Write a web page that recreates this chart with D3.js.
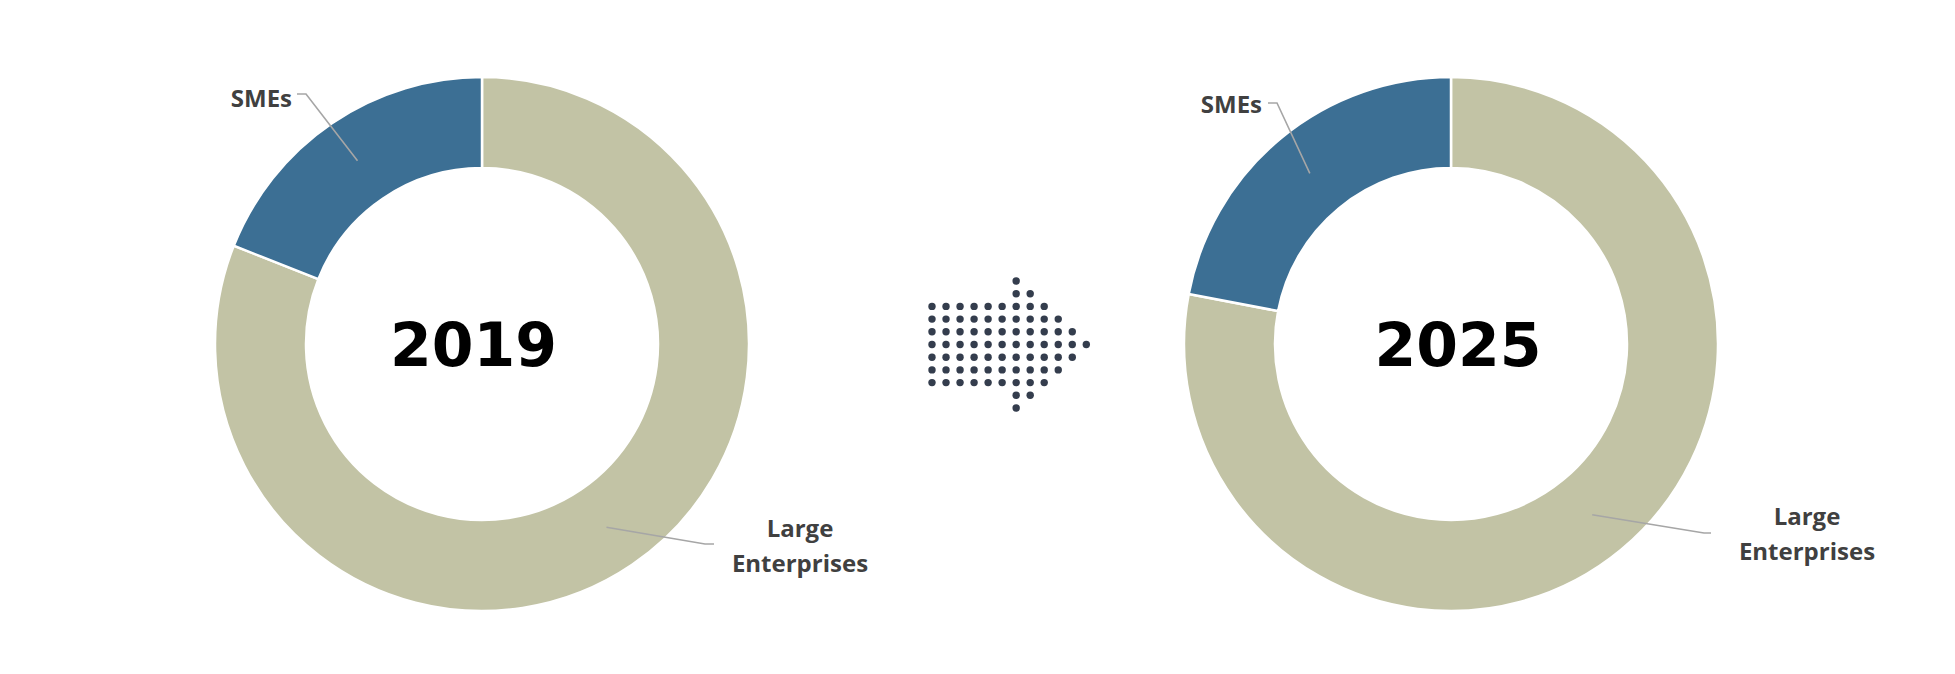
<!DOCTYPE html>
<html>
<head>
<meta charset="utf-8">
<script src="https://cdn.jsdelivr.net/npm/d3@7"></script>
<style>
  html, body { margin: 0; padding: 0; background: #fff; }
  svg { display: block; }
</style>
</head>
<body>
<svg id="chart" width="1955" height="674"></svg>
<script>
// ---- data ----
const categories = ["Large Enterprises", "SMEs"];
const years = ["2019", "2025"];
const share2019 = [81, 19];
const share2025 = [78, 22];
// dot arrow: [rowIndex, firstCol, lastCol]
const arrowRows = [[0,6,6],[1,6,7],[2,0,8],[3,0,9],[4,0,10],[5,0,11],[6,0,10],[7,0,9],[8,0,8],[9,6,7],[10,6,6]];

// ---- layout / style ----
const colors = { "Large Enterprises": "#c2c3a5", "SMEs": "#3c6f94" };
const textColor = "#404040";
const leaderColor = "#a6a6a6";
const outerR = 267, innerR = 176;

const svg = d3.select("#chart");

const charts = [
  { year: years[0], values: share2019, cx: 482, cy: 344, yearX: 473.5,
    labels: {
      "SMEs": { pts: [[306, 94], [297, 94]], tx: 292, ty: 107, anchor: "end", lines: ["SMEs"] },
      "Large Enterprises": { pts: [[705, 544], [714, 544]], tx: 800, ty: 537, anchor: "middle", lines: ["Large", "Enterprises"] }
    } },
  { year: years[1], values: share2025, cx: 1451, cy: 344, yearX: 1458,
    labels: {
      "SMEs": { pts: [[1277, 103], [1268, 103]], tx: 1262, ty: 113, anchor: "end", lines: ["SMEs"] },
      "Large Enterprises": { pts: [[1704, 533], [1711, 533]], tx: 1807, ty: 525, anchor: "middle", lines: ["Large", "Enterprises"] }
    } }
];

const pie = d3.pie().sort(null).value(d => d.v);
const arc = d3.arc().innerRadius(innerR).outerRadius(outerR);

charts.forEach(c => {
  const data = categories.map((k, i) => ({ k, v: c.values[i] }));
  const arcs = pie(data);
  const g = svg.append("g").attr("transform", `translate(${c.cx},${c.cy})`);
  g.selectAll("path.slice").data(arcs).join("path")
    .attr("class", "slice")
    .attr("d", arc)
    .attr("fill", d => colors[d.data.k])
    .attr("stroke", "#fff")
    .attr("stroke-width", 2.5);

  // leader lines + labels
  arcs.forEach(a => {
    const L = c.labels[a.data.k];
    const [x0, y0] = arc.centroid(a);
    const pts = [[x0 + c.cx, y0 + c.cy]].concat(L.pts);
    svg.append("path")
      .attr("d", d3.line()(pts))
      .attr("fill", "none")
      .attr("stroke", leaderColor)
      .attr("stroke-width", 1.6);
    const t = svg.append("text")
      .attr("x", L.tx).attr("y", L.ty)
      .attr("text-anchor", L.anchor)
      .attr("font-family", "'Open Sans', sans-serif")
      .attr("font-weight", 700)
      .attr("font-size", 24)
      .attr("fill", textColor);
    L.lines.forEach((ln, i) => {
      t.append("tspan").attr("x", L.tx).attr("dy", i === 0 ? 0 : 35).text(ln);
    });
  });

  svg.append("text")
    .attr("x", c.yearX).attr("y", c.cy + 22)
    .attr("text-anchor", "middle")
    .attr("font-family", "'DejaVu Sans', sans-serif")
    .attr("font-weight", 700)
    .attr("font-size", 60)
    .attr("fill", "#000")
    .text(c.year);
});

// dotted arrow between the two donuts
const colX = d3.scaleLinear().domain([0, 11]).range([932, 1086.3]);
const rowY = d3.scaleLinear().domain([0, 10]).range([281, 408]);
const dots = [];
arrowRows.forEach(([r, a, b]) => { for (let c = a; c <= b; c++) dots.push([r, c]); });
svg.append("g").selectAll("circle").data(dots).join("circle")
  .attr("cx", d => colX(d[1]))
  .attr("cy", d => rowY(d[0]))
  .attr("r", 3.7)
  .attr("fill", "#343d4d");
</script>
</body>
</html>
